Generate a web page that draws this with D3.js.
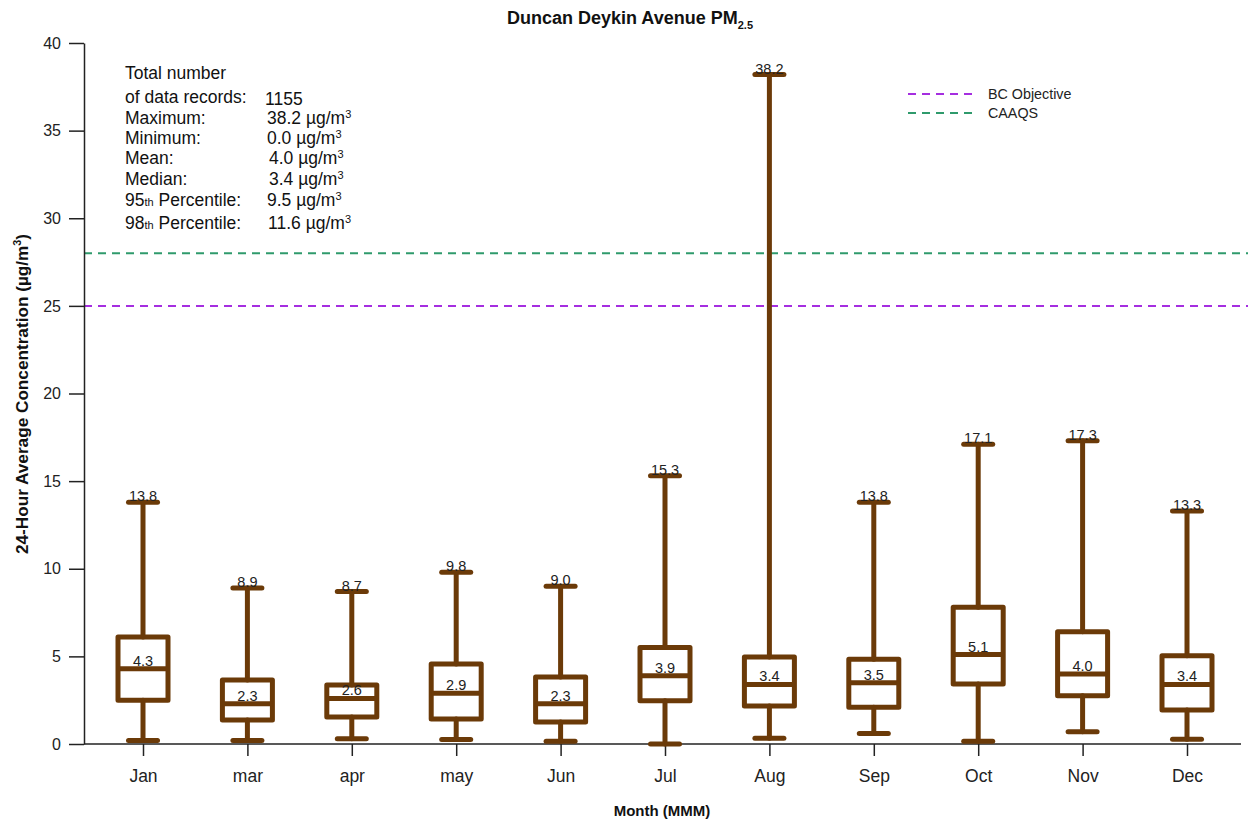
<!DOCTYPE html>
<html><head><meta charset="utf-8">
<script src="https://cdn.jsdelivr.net/npm/d3@7"></script>
<style>body{margin:0;background:#fff}svg{font-family:"Liberation Sans",Arial,sans-serif}</style>
</head><body><svg id="c" width="1248" height="823"></svg>
<script>
const months = ["Jan","mar","apr","may","Jun","Jul","Aug","Sep","Oct","Nov","Dec"];
const mins    = [0.2,0.2,0.3,0.25,0.15,0.0,0.33,0.6,0.15,0.7,0.27];
const q1s     = [2.5,1.37,1.54,1.43,1.26,2.47,2.17,2.1,3.42,2.76,1.94];
const medians = [4.3,2.3,2.6,2.9,2.3,3.9,3.4,3.5,5.1,4.0,3.4];
const q3s     = [6.1,3.65,3.37,4.56,3.83,5.5,4.96,4.84,7.8,6.4,5.04];
const maxes   = [13.8,8.9,8.7,9.8,9.0,15.3,38.2,13.8,17.1,17.3,13.3];
const yTicks  = [0,5,10,15,20,25,30,35,40];
const refNames  = ["BC Objective","CAAQS"];
const refValues = [25,28];
const statLabels = ["Maximum:","Minimum:","Mean:","Median:"];
const statValues = ["38.2","0.0","4.0","3.4"];
const p95 = "9.5", p98 = "11.6", nRecords = "1155";

const svg = d3.select("#c");
const brown = "#6b3a08";
const refColors = ["#a52ee0","#2f9a6c"];
const x = d3.scalePoint().domain(months).range([143,1187]);
const y = d3.scaleLinear().domain([0,40]).range([744,43]);
const left = 84, right = 1241;

// reference lines
refValues.forEach((v,i)=>{
  svg.append("line").attr("x1",left).attr("x2",1248).attr("y1",y(v)).attr("y2",y(v))
    .attr("stroke",refColors[i]).attr("stroke-width",2).attr("stroke-dasharray","8,6");
});

// axes
const ya = svg.append("g").attr("transform",`translate(${left},0)`)
  .call(d3.axisLeft(y).tickValues(yTicks).tickSize(15).tickSizeOuter(0).tickPadding(8));
ya.selectAll("text").attr("font-size",16).attr("fill","#222").attr("font-family","Liberation Sans, Arial");
ya.selectAll("line,path").attr("stroke","#222").attr("stroke-width",1.5);

const xa = svg.append("g").attr("transform",`translate(0,${y(0)})`)
  .call(d3.axisBottom(x).tickSize(12).tickSizeOuter(0).tickPadding(14));
xa.select(".domain").attr("d",`M${left},0H${right}`);
xa.selectAll("text").attr("font-size",17.5).attr("fill","#222").attr("font-family","Liberation Sans, Arial");
xa.selectAll("line,path").attr("stroke","#222").attr("stroke-width",1.5);

// boxes
const bw = 50, cw = 29;
const g = svg.append("g").attr("stroke",brown).attr("stroke-width",5).attr("fill","none").attr("stroke-linecap","round");
months.forEach((m,i)=>{
  const cx = x(m);
  g.append("line").attr("x1",cx).attr("x2",cx).attr("y1",y(maxes[i])).attr("y2",y(q3s[i]));
  g.append("line").attr("x1",cx).attr("x2",cx).attr("y1",y(q1s[i])).attr("y2",y(mins[i]));
  g.append("line").attr("x1",cx-cw/2).attr("x2",cx+cw/2).attr("y1",y(maxes[i])).attr("y2",y(maxes[i]));
  g.append("line").attr("x1",cx-cw/2).attr("x2",cx+cw/2).attr("y1",y(mins[i])).attr("y2",y(mins[i]));
  g.append("rect").attr("x",cx-bw/2).attr("width",bw).attr("y",y(q3s[i])).attr("height",y(q1s[i])-y(q3s[i])).attr("stroke-linejoin","round");
  g.append("line").attr("x1",cx-bw/2).attr("x2",cx+bw/2).attr("y1",y(medians[i])).attr("y2",y(medians[i])).attr("stroke-linecap","butt");
  svg.append("text").attr("x",cx).attr("y",y(medians[i])-3).attr("text-anchor","middle").attr("font-size",14.5).attr("fill","#222").text(medians[i].toFixed(1));
  svg.append("text").attr("x",cx).attr("y",y(maxes[i])-1).attr("text-anchor","middle").attr("font-size",14.5).attr("fill","#222").text(maxes[i].toFixed(1));
});

// title
const t = svg.append("text").attr("x",630).attr("y",24).attr("text-anchor","middle").attr("font-size",18).attr("font-weight","bold").attr("fill","#111");
t.append("tspan").text("Duncan Deykin Avenue PM");
t.append("tspan").attr("font-size",11).attr("dy",5).text("2.5");

// axis titles
svg.append("text").attr("transform","translate(28,394) rotate(-90)").attr("text-anchor","middle").attr("font-size",16).attr("font-weight","bold").attr("fill","#111")
  .attr("textLength",320).attr("lengthAdjust","spacingAndGlyphs")
  .html('24-Hour Average Concentration (µg/m<tspan font-size="10" dy="-7">3</tspan><tspan dy="7">)</tspan>');
svg.append("text").attr("x",662).attr("y",816).attr("text-anchor","middle").attr("font-size",15).attr("font-weight","bold").attr("fill","#111").text("Month (MMM)");

// legend
refNames.forEach((n,i)=>{
  const ly = 94 + i*19;
  svg.append("line").attr("x1",908).attr("x2",978).attr("y1",ly).attr("y2",ly).attr("stroke",refColors[i]).attr("stroke-width",2).attr("stroke-dasharray","8,6");
  svg.append("text").attr("x",988).attr("y",ly+5).attr("font-size",14.3).attr("fill","#222").text(n);
});

// stats box
const st = svg.append("g").attr("font-size",17.5).attr("fill","#111");
st.append("text").attr("x",125).attr("y",79).text("Total number");
st.append("text").attr("x",125).attr("y",103).text("of data records:");
st.append("text").attr("x",265).attr("y",105).text(nRecords);
const unit = (sel)=>{ sel.append("tspan").text(" µg/m"); sel.append("tspan").attr("font-size",11).attr("dy",-6).text("3"); };
const rowsY = [124,144,164,185];
const valX = [267,267,269,269];
statLabels.forEach((l,i)=>{
  st.append("text").attr("x",125).attr("y",rowsY[i]).text(l);
  const v = st.append("text").attr("x",valX[i]).attr("y",rowsY[i]);
  v.append("tspan").text(statValues[i]); unit(v);
});
[[95,p95,206,267],[98,p98,229,268]].forEach(([p,val,yy,xx])=>{
  const l = st.append("text").attr("x",125).attr("y",yy);
  l.append("tspan").text(p);
  l.append("tspan").attr("font-size",11).text("th");
  l.append("tspan").text(" Percentile:");
  const v = st.append("text").attr("x",xx).attr("y",yy);
  v.append("tspan").text(val); unit(v);
});
</script></body></html>
